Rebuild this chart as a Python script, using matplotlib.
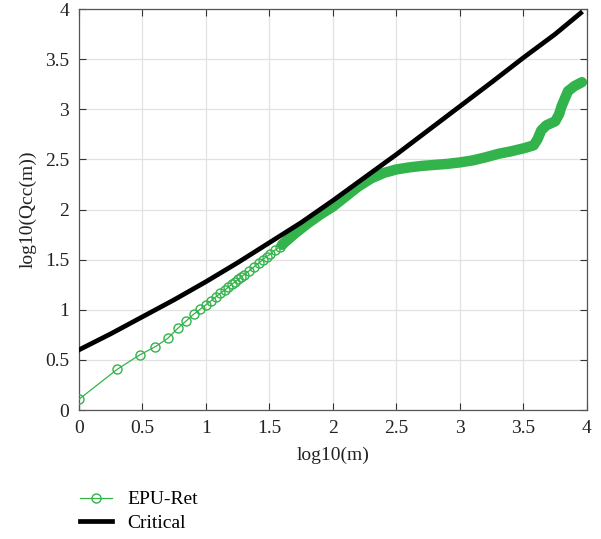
import matplotlib
matplotlib.use("Agg")
import matplotlib.pyplot as plt

plt.rcParams['font.family'] = ['Liberation Serif', 'DejaVu Serif']

# EPU-Ret: individual markers (log10(m), log10(Qcc(m)))
epu_x = [0.0, 0.301, 0.477, 0.602, 0.699, 0.778, 0.845, 0.903, 0.954, 1.0,
         1.041, 1.079, 1.114, 1.146, 1.176, 1.204, 1.230, 1.255, 1.279, 1.301,
         1.342, 1.380, 1.415, 1.447, 1.477, 1.505, 1.544, 1.580, 1.602]
epu_y = [0.107, 0.406, 0.549, 0.632, 0.715, 0.815, 0.89, 0.955, 1.005, 1.05,
         1.09, 1.13, 1.165, 1.195, 1.225, 1.255, 1.28, 1.305, 1.33, 1.35,
         1.39, 1.43, 1.465, 1.50, 1.53, 1.555, 1.595, 1.63, 1.655]

# dense part of EPU-Ret where markers merge into a band
band_x = [1.60, 1.70, 1.80, 1.90, 2.00, 2.10, 2.20, 2.30, 2.40, 2.50, 2.60,
          2.70, 2.80, 2.90, 3.00, 3.10, 3.20, 3.30, 3.40, 3.50, 3.58, 3.61,
          3.64, 3.68, 3.75, 3.78, 3.80, 3.85, 3.90, 3.96]
band_y = [1.65, 1.76, 1.86, 1.95, 2.03, 2.13, 2.23, 2.31, 2.365, 2.40, 2.42,
          2.435, 2.445, 2.455, 2.47, 2.49, 2.52, 2.555, 2.58, 2.61, 2.64, 2.70,
          2.79, 2.84, 2.88, 2.95, 3.03, 3.18, 3.23, 3.27]

# Critical curve
crit_x = [0.0, 0.25, 0.5, 0.75, 1.0, 1.25, 1.5, 1.75, 2.0, 2.25, 2.5, 2.75,
          3.0, 3.25, 3.5, 3.75, 3.95]
crit_y = [0.60, 0.76, 0.93, 1.10, 1.28, 1.47, 1.67, 1.87, 2.09, 2.32, 2.55,
          2.79, 3.03, 3.27, 3.515, 3.75, 3.96]

green = '#33b34b'

fig = plt.figure(figsize=(6.01, 5.39), dpi=100)
ax = fig.add_axes([0.1314, 0.2393, 0.8453, 0.744])

ax.plot(band_x, band_y, color=green, lw=7.5, solid_capstyle='round',
        solid_joinstyle='round', zorder=2)
ax.plot(epu_x, epu_y, color=green, lw=0.9, marker='o', markersize=6.5,
        markerfacecolor='none', markeredgecolor=green, markeredgewidth=1.0,
        label='EPU-Ret', zorder=3)
ax.plot(crit_x, crit_y, color='black', lw=3.4, label='Critical', zorder=4)

ax.set_xlim(0, 4)
ax.set_ylim(0, 4)
ax.set_xticks([0, 0.5, 1, 1.5, 2, 2.5, 3, 3.5, 4])
ax.set_yticks([0, 0.5, 1, 1.5, 2, 2.5, 3, 3.5, 4])
ax.set_xticklabels(['0', '0.5', '1', '1.5', '2', '2.5', '3', '3.5', '4'])
ax.set_yticklabels(['0', '0.5', '1', '1.5', '2', '2.5', '3', '3.5', '4'])
ax.tick_params(direction='in', top=True, right=True, length=5, width=0.8,
               labelsize=14, colors='#333333', labelcolor='#222222', pad=7)
ax.grid(True, color='#e2e2e2', lw=0.9)
ax.set_axisbelow(True)
for s in ax.spines.values():
    s.set_color('#555555')
    s.set_linewidth(0.9)

ax.set_xlabel('log10(m)', fontsize=14, color='#222222', labelpad=7)
ax.set_ylabel('log10(Qcc(m))', fontsize=14, color='#222222', labelpad=6)

fig.legend(loc='upper left', bbox_to_anchor=(0.12, 0.104), frameon=False,
           fontsize=14, handlelength=1.65, handletextpad=0.8,
           labelspacing=0.3, borderaxespad=0)

fig.savefig('out.png', dpi=100)
